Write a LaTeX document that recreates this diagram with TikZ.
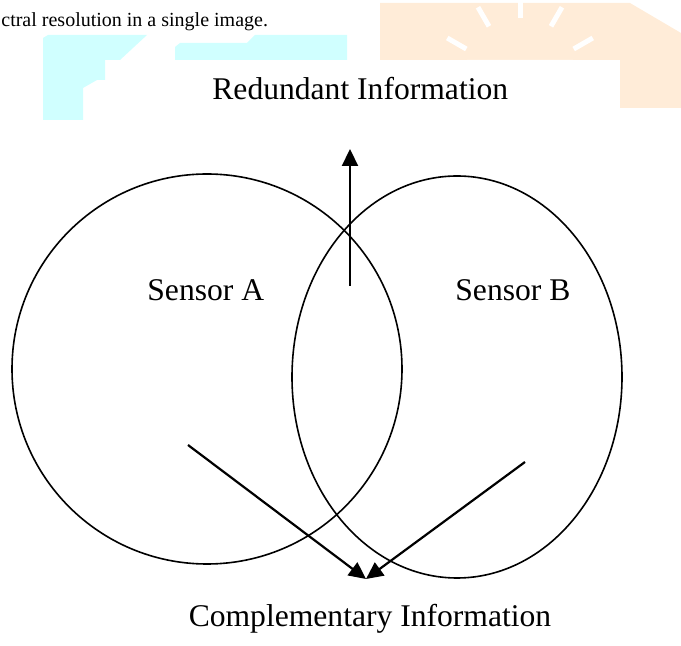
\documentclass[tikz,border=0pt]{standalone}
\usepackage{fontspec}
\setmainfont{Liberation Serif}
\usepackage{xcolor}
\usetikzlibrary{arrows.meta}
\definecolor{markcyan}{RGB}{208,255,255}
\definecolor{markorange}{RGB}{255,236,216}
\tikzset{
	sensor/.style = {line width=0.8pt},
	flow/.style = {line width=1.1pt, -{Triangle[width=8pt,length=8.5pt]}},
	caption/.style = {font=\fontsize{15.8}{19}\selectfont, inner sep=0pt},
}

\begin{document}
\begin{tikzpicture}[x=0.5pt, y=-0.5pt]
			\useasboundingbox (0,0) rectangle (681,646);

			% watermark behind the figure
			\begin{scope}
				\fill [markcyan] (43,120) -- (43,38) -- (48,35) -- (147,35) -- (120,60) -- (105,60)
					-- (105,80) -- (97,80) -- (83,88) -- (83,120) -- cycle;
				\fill [markcyan] (175,60) -- (175,47) -- (180,43) -- (247,43) -- (255,35)
					-- (347,35) -- (347,60) -- cycle;
				\fill [markorange] (380,60) -- (380,3) -- (630,3) -- (681,33) -- (681,108)
					-- (620,108) -- (620,60) -- cycle;
				\fill [white] (467,60) arc [start angle=180, end angle=0, radius=53] -- cycle;
				\foreach \ang in {30,60,90,120,150}
					\draw [white, line width=2.5pt] (520,80) ++(\ang:-62) -- ++(\ang:-22);
			\end{scope}

			\node [anchor=base west, inner sep=0pt, font=\fontsize{10}{12}\selectfont] (cut) at (1,27)
				{ctral resolution in a single image.};

			% the two sensors
			\draw [sensor] (207,369) circle [radius=195];
			\draw [sensor] (457,377) ellipse [x radius=165, y radius=201];

			\node [caption, anchor=base west] (sensA) at (147,301) {Sensor A};
			\node [caption, anchor=base west] (sensB) at (455,301) {Sensor B};
			\node [caption, anchor=base west] (redund) at (212,100) {Redundant Information};
			\node [caption, anchor=base] (compl) at (370,627) {Complementary Information};

			\coordinate (redTail) at (350,286);
			\coordinate (redTip) at (350,149);
			\coordinate (aTail) at (188,445);
			\coordinate (bTail) at (525,462);
			\coordinate (meet) at (366,579);

			\draw [flow] (redTail) -- (redTip);
			\draw [flow] (aTail) -- (meet);
			\draw [flow] (bTail) -- (meet);
		\end{tikzpicture}
\end{document}
